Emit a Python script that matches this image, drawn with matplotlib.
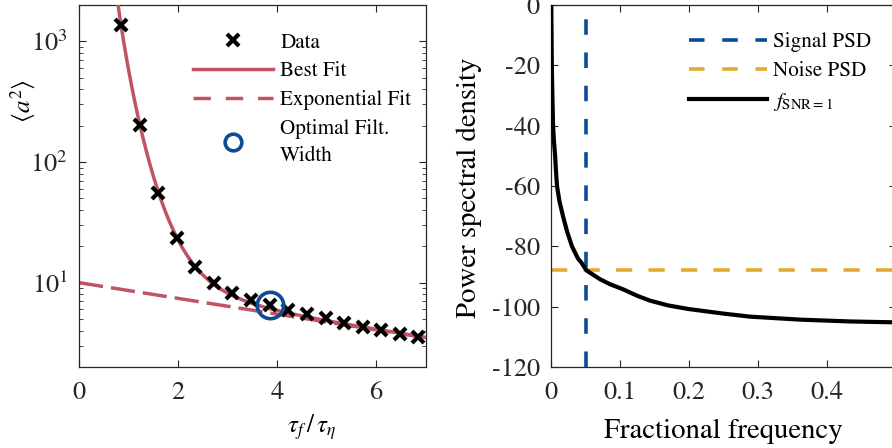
import numpy as np
import matplotlib
matplotlib.use("Agg")
import matplotlib.pyplot as plt
from matplotlib.lines import Line2D

# ---------------- data ----------------
tau_ratio = [0.85, 1.23, 1.60, 1.98, 2.35, 2.73, 3.10, 3.48, 3.86,
             4.23, 4.60, 4.98, 5.35, 5.73, 6.10, 6.48, 6.85]
a2_data = [1360, 203, 55.5, 23.4, 13.4, 9.9, 8.15, 7.2, 6.56,
           5.96, 5.55, 5.14, 4.67, 4.33, 4.03, 3.78, 3.55]
optimal_x = [3.86]
optimal_y = [6.56]

# fit parameters
exp_amp, exp_decay = 10.0, 0.15
pow_amp, pow_exp = 576.0, 5.24

# right panel
freq = [0.0004, 0.0012, 0.0020, 0.0030, 0.0042, 0.0053, 0.0060, 0.0072,
        0.0087, 0.0122, 0.0174, 0.0232, 0.0304, 0.039, 0.044, 0.0515,
        0.071, 0.085, 0.105, 0.125, 0.1435, 0.17, 0.2, 0.25, 0.288,
        0.361, 0.433, 0.5]
psd = [0, -20, -30, -40, -45, -48, -50, -55,
       -60, -65, -70, -75, -80, -84, -85.4, -88,
       -90.9, -92.5, -94.3, -96.4, -98.0, -99.6, -100.8, -102.3, -103.3,
       -104.3, -104.9, -105.2]
signal_f = 0.05
noise_level = -88
right_yticks = [-120, -100, -80, -60, -40, -20, 0]
right_yticklabels = ['-120', '-100', '-80', '-60', '-40', '-20', '0']
right_xticks = [0, 0.1, 0.2, 0.3, 0.4]
right_xticklabels = ['0', '0.1', '0.2', '0.3', '0.4']

# ---------------- style ----------------
plt.rcParams['font.family'] = ['STIXGeneral', 'DejaVu Serif']
plt.rcParams['mathtext.fontset'] = 'stix'
axcol = '#262626'
red = '#C05364'
blue = '#0B4C93'
yellow = '#E2AB2F'

fig = plt.figure(figsize=(8.92, 4.48), dpi=100)
W, H = 892, 448

def style(ax):
    ax.tick_params(which='both', direction='in', top=True, right=True,
                   colors=axcol, labelcolor='#262626', labelsize=19)
    ax.tick_params(which='major', length=5, width=0.8)
    ax.tick_params(which='minor', length=3, width=0.6)
    ax.tick_params(axis='y', which='both', pad=8)
    ax.tick_params(axis='x', which='both', pad=10)
    for s in ax.spines.values():
        s.set_color(axcol)
        s.set_linewidth(0.9)

# ---------------- left panel ----------------
ax1 = fig.add_axes([79 / W, 1 - 367 / H, 346.5 / W, 362 / H])
xx = np.linspace(0.0, 7.0, 500)
exp_fit = exp_amp * np.exp(-exp_decay * xx)
xb = np.linspace(0.7, 7.0, 500)
best_fit = pow_amp * xb ** (-pow_exp) + exp_amp * np.exp(-exp_decay * xb)

ax1.plot(xx, exp_fit, color=red, lw=2.5, dashes=(7, 2.3), zorder=2)
ax1.plot(xb, best_fit, color=red, lw=2.5, zorder=3)
ax1.plot(tau_ratio, a2_data, ls='none', marker='x', ms=9, mew=3,
         color='black', zorder=4)
ax1.plot(optimal_x, optimal_y, ls='none', marker='o', ms=19, mew=2.6,
         mfc='none', mec=blue, zorder=5)
ax1.set_yscale('log')
ax1.set_xlim(0, 7)
ax1.set_ylim(2, 2000)
ax1.set_xticks([0, 2, 4, 6])
style(ax1)
ax1.set_ylabel(r'$\langle a^2 \rangle$', fontsize=18)
ax1.yaxis.set_label_coords(-0.118, 0.735)
ax1.set_xlabel(r'$\tau_f\,/\,\tau_\eta$', fontsize=18)
ax1.xaxis.set_label_coords(0.67, -0.125)

h_data = Line2D([], [], ls='none', marker='x', ms=9, mew=3, color='black')
h_best = Line2D([], [], color=red, lw=2.5)
h_exp = Line2D([], [], color=red, lw=2.5, dashes=(5, 4.3))
h_opt = Line2D([], [], ls='none', marker='o', ms=12, mew=2.6, mfc='none', mec=blue)
leg1 = fig.legend([h_data, h_best, h_exp, h_opt],
                  ['Data', 'Best Fit', 'Exponential Fit', 'Optimal Filt.\nWidth'],
                  loc='upper left', bbox_to_anchor=(193 / W, 1 - 33 / H),
                  frameon=False, fontsize=15.2, handlelength=3.8, handletextpad=0.33,
                  borderpad=0, borderaxespad=0, labelspacing=0.42)
for t in leg1.get_texts():
    t.set_linespacing(1.45)

# ---------------- right panel ----------------
ax2 = fig.add_axes([551 / W, 1 - 367 / H, 345 / W, 362 / H])
ax2.axvline(signal_f, color=blue, lw=2.6, dashes=(4.3, 4.9), zorder=2)
ax2.axhline(noise_level, color=yellow, lw=2.6, dashes=(4.5, 4.5), zorder=2)
ax2.plot(freq, psd, color='black', lw=3, zorder=3, solid_joinstyle='round')
ax2.set_xlim(0, 0.5)
ax2.set_ylim(-120, 0)
ax2.set_yticks(right_yticks)
ax2.set_yticklabels(right_yticklabels)
ax2.set_xticks(right_xticks)
ax2.set_xticklabels(right_xticklabels)
style(ax2)
ax2.set_ylabel('Power spectral density', fontsize=20.7)
ax2.yaxis.set_label_coords(-0.2, 0.496)
ax2.set_xlabel('Fractional frequency', fontsize=20.7)
ax2.xaxis.set_label_coords(0.5, -0.143)

hs = Line2D([], [], color=blue, lw=2.6, dashes=(4.3, 4.9))
hn = Line2D([], [], color=yellow, lw=2.6, dashes=(4.3, 4.9))
hf = Line2D([], [], color='black', lw=3)
fig.legend([hs, hn, hf], ['Signal PSD', 'Noise PSD', r'$f_{\mathrm{SNR=1}}$'],
           loc='upper left', bbox_to_anchor=(689 / W, 1 - 32 / H),
           frameon=False, fontsize=15.2, handlelength=3.7, handletextpad=0.3,
           borderpad=0, borderaxespad=0, labelspacing=0.45)

fig.savefig('out.png', dpi=100)
